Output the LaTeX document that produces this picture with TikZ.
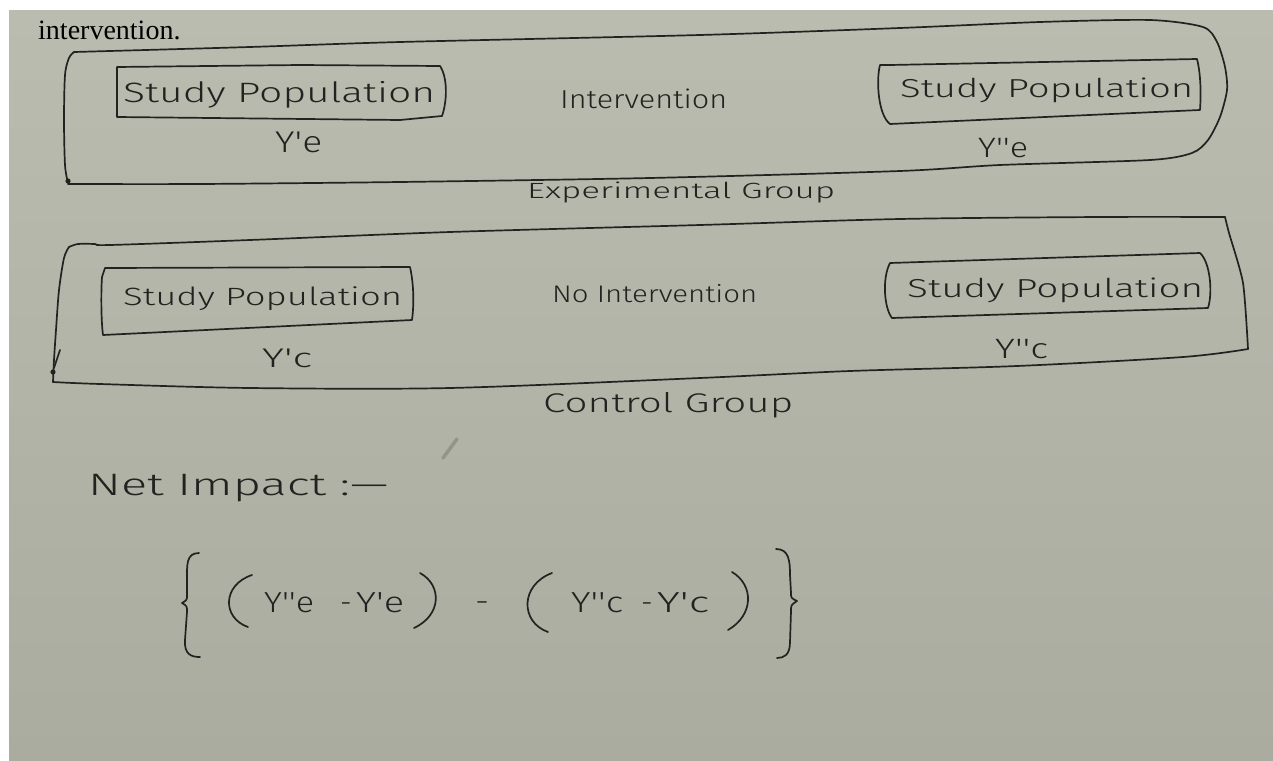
\documentclass[tikz,border=0pt]{standalone}
\usepackage{fontspec}
\usepackage{graphicx}
\setmainfont{Fira Sans Light}
\newfontfamily\printfont{Liberation Serif}

\definecolor{ink}{RGB}{34,34,32}
\definecolor{papertop}{RGB}{186,188,176}
\definecolor{paperbot}{RGB}{170,172,160}
\definecolor{pencil}{RGB}{128,130,120}

% stretch a handwritten word horizontally to a given width (in pt)
\newcommand\stretchto[2]{\resizebox{#1pt}{\height}{#2}}
\newcommand\penfs[1]{\fontsize{#1}{#1}\selectfont}
\newcommand\pr{\textquotesingle}

\begin{document}
\begin{tikzpicture}[x=1pt,y=-1pt,
  pen/.style={draw=ink, line width=1.7pt, line cap=round, line join=round},
  hand/.style={inner sep=0pt, anchor=base west, text=ink}]

\useasboundingbox (0,0) rectangle (1273,760);
\fill[white] (0,0) rectangle (1273,760);
\shade[top color=papertop, bottom color=paperbot] (9,11) rectangle (1273,760);

% printed line above the sheet
\node[inner sep=0pt, anchor=base west, text=black, font=\printfont\penfs{28}] (cap) at (38,40) {intervention.};

% ---------------- experimental group ----------------
\draw[pen] plot[smooth, tension=0.5] coordinates {(74,52) (69,58) (65,75) (64,120) (65,165) (68,183)};
\draw[pen] plot[smooth, tension=0.45] coordinates {(74,52) (250,47) (400,42) (700,35) (900,28) (1040,22) (1150,20)
  (1203,27) (1217,42) (1225,67) (1227,90) (1220,117) (1208,140) (1192,153) (1150,160) (1000,165) (900,171)
  (650,178) (400,182) (200,184) (68,184)};
\fill[ink] (68,181) circle (2.6);

% study population before (experimental)
\draw[pen] (117,67) -- (300,65) -- (440,66) .. controls (448,78) and (447,102) .. (442,116) -- (400,120) -- (117,117) -- cycle;
% study population after (experimental)
\draw[pen] (890,65) -- (1197,59) .. controls (1201,75) and (1201,95) .. (1200,110) -- (890,124)
  .. controls (878,115) and (876,80) .. (880,65) -- (890,65);

\node[hand, font=\penfs{28}] (popEa) at (123,102) {\stretchto{312}{Study Population}};
\node[hand, font=\penfs{30}] (yEa) at (275,152) {\stretchto{47}{Y\pr e}};
\node[hand, font=\penfs{26}] (intv) at (560,108) {\stretchto{167}{Intervention}};
\node[hand, font=\penfs{26}] (popEb) at (900,98) {\stretchto{293}{Study Population}};
\node[hand, font=\penfs{28}] (yEb) at (978,157) {\stretchto{50}{Y\pr\pr e}};
\node[hand, font=\penfs{22}] (expg) at (527,198) {\stretchto{308}{Experimental Group}};

% ---------------- control group ----------------
\draw[pen] plot[smooth, tension=0.5] coordinates {(69,247) (64,258) (59,290) (56,330) (54,360) (53,382)};
\draw[pen] plot[smooth, tension=0.5] coordinates {(69,247) (78,244) (95,244) (110,245) (250,240) (450,232) (700,225) (900,219) (1100,217) (1225,217)};
\draw[pen] plot[smooth, tension=0.4] coordinates {(1225,217) (1229,233) (1243,283) (1248,349)};
\draw[pen] plot[smooth, tension=0.5] coordinates {(1248,349) (1183,357) (1017,366) (850,371) (700,378) (450,388) (250,388) (100,384) (53,382)};
\draw[pen] (54,368) -- (60,350);
\fill[ink] (53,372) circle (2.6);

% study population before (control)
\draw[pen] (105,268) -- (410,267) .. controls (414,285) and (414,305) .. (412,320) -- (103,335)
  .. controls (101,320) and (101,290) .. (102,277) -- (105,268);
% study population after (control)
\draw[pen] (890,263) -- (1200,253) .. controls (1210,262) and (1213,292) .. (1208,308) -- (892,318)
  .. controls (884,308) and (882,278) .. (890,263);

\node[hand, font=\penfs{25}] (popCa) at (123,305) {\stretchto{279}{Study Population}};
\node[hand, font=\penfs{27}] (yCa) at (262,367) {\stretchto{50}{Y\pr c}};
\node[hand, font=\penfs{24}] (nointv) at (552,302) {\stretchto{205}{No Intervention}};
\node[hand, font=\penfs{26}] (popCb) at (907,297) {\stretchto{296}{Study Population}};
\node[hand, font=\penfs{28}] (yCb) at (995,358) {\stretchto{53}{Y\pr\pr c}};
\node[hand, font=\penfs{27}] (ctrl) at (543,412) {\stretchto{250}{Control Group}};

% stray pencil mark
\draw[pencil, line width=3.5pt, line cap=round, opacity=0.6] (443,458) -- (457,439);

% ---------------- net impact ----------------
\node[hand, font=\penfs{31}] (net) at (88,495) {\stretchto{300}{Net Impact :—}};

% braces and brackets of the formula
\draw[pen] (199,553) .. controls (186,553) and (187,565) .. (187,580) -- (187,595)
  .. controls (187,600) .. (182,603) .. controls (187,606) .. (187,612) -- (185,640)
  .. controls (184,655) and (192,657) .. (200,657);
\draw[pen] (776,549) .. controls (789,549) and (790,561) .. (790,575) -- (791,593)
  .. controls (791,598) .. (797,601) .. controls (791,605) .. (791,611) -- (790,642)
  .. controls (790,655) and (784,658) .. (777,658);
\draw[pen] (252,575) .. controls (222,585) and (222,618) .. (248,627);
\draw[pen] (420,573) .. controls (442,585) and (442,615) .. (414,628);
\draw[pen] (552,573) .. controls (520,585) and (520,622) .. (548,632);
\draw[pen] (732,572) .. controls (754,585) and (754,615) .. (728,630);

\node[hand, font=\penfs{29}] (fEb) at (264,612) {\stretchto{50}{Y\pr\pr e}};
\node[hand, font=\penfs{29}] (fDa) at (340,612) {-};
\node[hand, font=\penfs{29}] (fEa) at (356,612) {\stretchto{48}{Y\pr e}};
\node[hand, font=\penfs{29}] (fMinus) at (475,611) {\stretchto{14}{-}};
\node[hand, font=\penfs{29}] (fCb) at (571,612) {\stretchto{52}{Y\pr\pr c}};
\node[hand, font=\penfs{29}] (fDc) at (641,612) {-};
\node[hand, font=\penfs{29}] (fCa) at (657,612) {\stretchto{52}{Y\pr c}};

\end{tikzpicture}
\end{document}
